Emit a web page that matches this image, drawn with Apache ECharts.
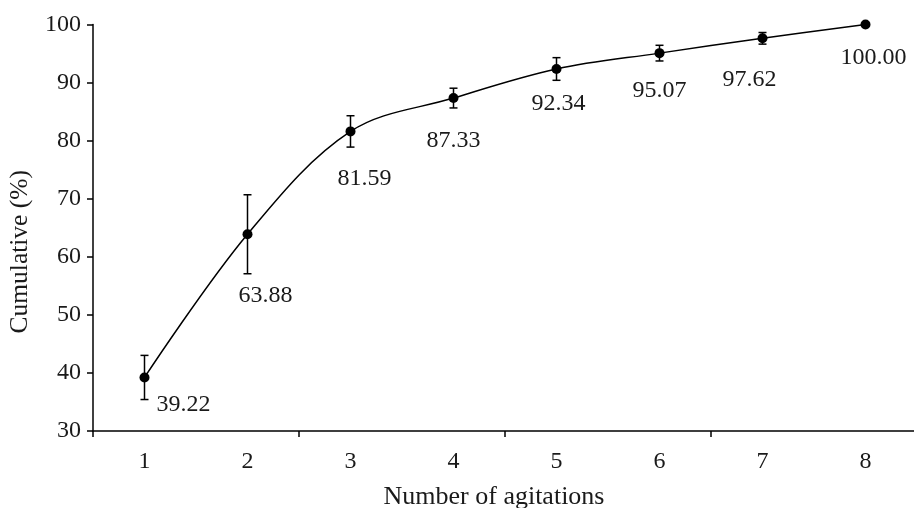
<!DOCTYPE html>
<html>
<head>
<meta charset="utf-8">
<script src="https://cdn.jsdelivr.net/npm/echarts@6/dist/echarts.min.js"></script>
<style>
html,body{margin:0;padding:0;background:#fff;}
#main{width:914px;height:508px;}
</style>
</head>
<body>
<div id="main"></div>
<script>
const categories = ['1', '2', '3', '4', '5', '6', '7', '8'];
const cumulative = [39.22, 63.88, 81.59, 87.33, 92.34, 95.07, 97.62, 100.00];
const errorSD = [3.8, 6.8, 2.7, 1.7, 1.95, 1.35, 1.0, 0];
const yTicks = [30, 40, 50, 60, 70, 80, 90, 100];

const FONT = 'Liberation Serif';
const TXT = '#1a1a1a';
const labelOffsets = [[39, 27], [18, 61], [14, 47], [0, 43], [2, 35], [0, 38], [-13, 41], [8, 33]];

const errData = cumulative.map((v, i) => [i, v - errorSD[i], v + errorSD[i]]).filter((d, i) => errorSD[i] > 0);

const chart = echarts.init(document.getElementById('main'), null, {renderer: 'canvas'});
chart.setOption({
  animation: false,
  backgroundColor: '#fff',
  grid: {left: 93, top: 24.5, width: 824, height: 406.5, containLabel: false, outerBoundsMode: 'none'},
  xAxis: {
    type: 'category',
    data: categories,
    boundaryGap: true,
    name: 'Number of agitations',
    nameLocation: 'middle',
    nameGap: 53,
    nameTextStyle: {fontFamily: FONT, fontSize: 26, color: TXT, padding: [0, 22, 0, 0]},
    axisLine: {lineStyle: {color: '#000', width: 1.5}},
    axisTick: {show: true, interval: function (idx) { return idx % 2 === 0; }, length: 6, lineStyle: {color: '#000', width: 1.5}},
    axisLabel: {fontFamily: FONT, fontSize: 24, color: TXT, margin: 19, interval: 0},
    splitLine: {show: false}
  },
  yAxis: {
    type: 'value',
    min: yTicks[0],
    max: yTicks[yTicks.length - 1],
    interval: 10,
    name: 'Cumulative (%)',
    nameLocation: 'middle',
    nameGap: 60,
    nameTextStyle: {fontFamily: FONT, fontSize: 25.5, color: TXT, padding: [0, 48, 0, 0]},
    axisLine: {show: true, lineStyle: {color: '#000', width: 1.5}},
    axisTick: {show: true, length: 6, lineStyle: {color: '#000', width: 1.5}},
    axisLabel: {fontFamily: FONT, fontSize: 24, color: TXT, margin: 12},
    splitLine: {show: false}
  },
  series: [
    {
      type: 'line',
      data: cumulative.map((v, i) => ({
        value: v,
        label: {offset: labelOffsets[i]}
      })),
      smooth: 0.35,
      symbol: 'circle',
      symbolSize: 10,
      itemStyle: {color: '#000'},
      lineStyle: {color: '#000', width: 1.5},
      label: {
        show: true,
        position: 'inside',
        align: 'center',
        verticalAlign: 'middle',
        fontFamily: FONT,
        fontSize: 24,
        color: TXT,
        formatter: p => Number(p.value).toFixed(2)
      },
      z: 3
    },
    {
      type: 'custom',
      data: errData,
      z: 2,
      renderItem: function (params, api) {
        const x = api.value(0);
        const lo = api.coord([x, api.value(1)]);
        const hi = api.coord([x, api.value(2)]);
        const w = 4;
        const st = {stroke: '#000', lineWidth: 1.5};
        return {
          type: 'group',
          children: [
            {type: 'line', shape: {x1: lo[0], y1: lo[1], x2: hi[0], y2: hi[1]}, style: st},
            {type: 'line', shape: {x1: lo[0] - w, y1: lo[1], x2: lo[0] + w, y2: lo[1]}, style: st},
            {type: 'line', shape: {x1: hi[0] - w, y1: hi[1], x2: hi[0] + w, y2: hi[1]}, style: st}
          ]
        };
      }
    }
  ]
});
</script>
</body>
</html>
